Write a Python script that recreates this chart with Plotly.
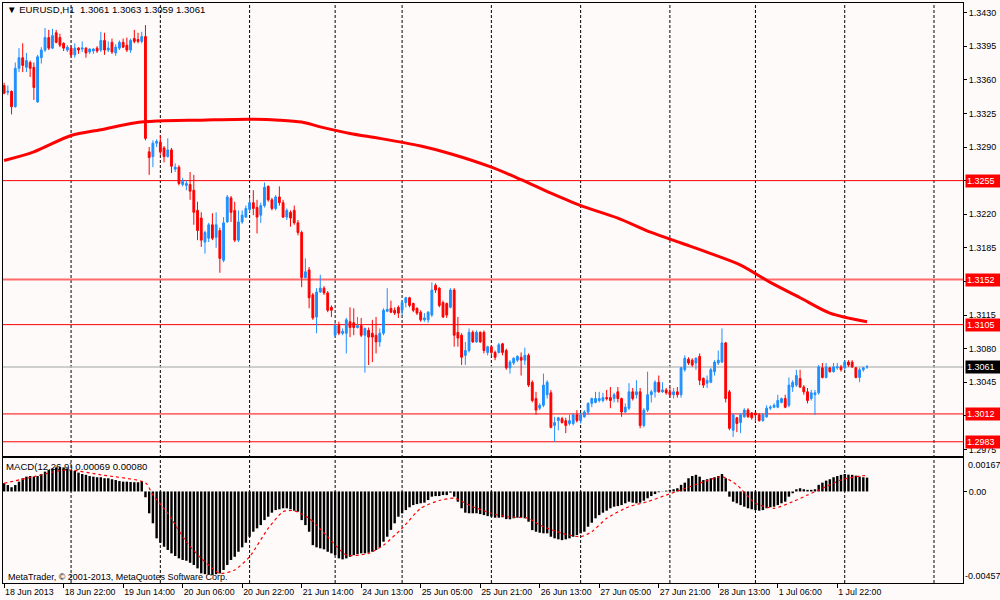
import plotly.graph_objects as go

# ---------------- data (EURUSD H1) ----------------
open_ = [1.3354,1.3347,1.3348,1.3332,1.3372,1.3383,1.3373,1.3378,1.3373,1.3337,
1.3383,1.3391,1.3404,1.3393,1.3409,1.3404,1.3398,1.3391,1.3393,1.3386,
1.3393,1.3392,1.3393,1.3389,1.3390,1.3393,1.3391,1.3401,1.3391,1.3399,
1.3388,1.3393,1.3399,1.3396,1.3391,1.3403,1.3402,1.3400,1.3405,1.3285,
1.3280,1.3294,1.3295,1.3289,1.3280,1.3287,1.3267,1.3269,1.3251,1.3250,
1.3251,1.3245,1.3224,1.3216,1.3191,1.3195,1.3209,1.3196,1.3203,1.3172,
1.3212,1.3237,1.3224,1.3193,1.3212,1.3217,1.3225,1.3232,1.3227,1.3219,
1.3229,1.3249,1.3235,1.3226,1.3238,1.3232,1.3217,1.3222,1.3224,1.3211,
1.3201,1.3154,1.3162,1.3136,1.3113,1.3139,1.3143,1.3138,1.3123,1.3094,
1.3104,1.3096,1.3096,1.3108,1.3107,1.3102,1.3104,1.3094,1.3099,1.3096,
1.3094,1.3087,1.3096,1.3119,1.3122,1.3120,1.3123,1.3120,1.3128,1.3133,
1.3127,1.3122,1.3118,1.3110,1.3110,1.3115,1.3146,1.3143,1.3128,1.3127,
1.3123,1.3141,1.3097,1.3094,1.3073,1.3078,1.3097,1.3087,1.3097,1.3097,
1.3076,1.3082,1.3076,1.3076,1.3085,1.3078,1.3060,1.3065,1.3068,1.3071,
1.3068,1.3073,1.3045,1.3028,1.3018,1.3021,1.3032,1.3034,1.3000,1.3005,
1.3007,1.3005,1.3002,1.3002,1.3011,1.3005,1.3009,1.3014,1.3023,1.3024,
1.3026,1.3026,1.3029,1.3029,1.3028,1.3035,1.3028,1.3014,1.3018,1.3035,
1.3032,1.3035,1.3000,1.3016,1.3032,1.3035,1.3045,1.3035,1.3037,1.3035,
1.3032,1.3035,1.3032,1.3058,1.3069,1.3068,1.3065,1.3072,1.3049,1.3044,
1.3045,1.3056,1.3065,1.3066,1.3086,1.3035,1.2995,1.3008,1.3003,1.3009,
1.3016,1.3013,1.3013,1.3011,1.3005,1.3009,1.3018,1.3019,1.3019,1.3024,
1.3028,1.3021,1.3040,1.3042,1.3049,1.3040,1.3035,1.3028,1.3032,1.3034,
1.3060,1.3050,1.3060,1.3056,1.3060,1.3061,1.3060,1.3066,1.3066,1.3060,
1.3050,1.3058,1.3061]

high = [1.3357,1.3354,1.3349,1.3378,1.3393,1.3398,1.3388,1.3380,1.3378,1.3386,
1.3394,1.3414,1.3412,1.3413,1.3412,1.3408,1.3399,1.3396,1.3396,1.3398,
1.3394,1.3400,1.3394,1.3393,1.3393,1.3395,1.3410,1.3409,1.3400,1.3403,
1.3397,1.3401,1.3403,1.3404,1.3403,1.3412,1.3409,1.3410,1.3417,1.3290,
1.3297,1.3298,1.3302,1.3291,1.3299,1.3289,1.3273,1.3271,1.3258,1.3255,
1.3264,1.3261,1.3233,1.3222,1.3203,1.3211,1.3221,1.3222,1.3206,1.3217,
1.3240,1.3239,1.3233,1.3224,1.3224,1.3229,1.3237,1.3245,1.3235,1.3232,
1.3253,1.3250,1.3237,1.3240,1.3249,1.3235,1.3226,1.3224,1.3229,1.3214,
1.3203,1.3174,1.3165,1.3138,1.3143,1.3157,1.3145,1.3140,1.3125,1.3107,
1.3108,1.3101,1.3112,1.3123,1.3122,1.3113,1.3112,1.3102,1.3102,1.3110,
1.3113,1.3101,1.3122,1.3143,1.3130,1.3123,1.3125,1.3130,1.3134,1.3134,
1.3128,1.3123,1.3120,1.3117,1.3119,1.3149,1.3148,1.3144,1.3130,1.3128,
1.3143,1.3143,1.3113,1.3096,1.3087,1.3101,1.3099,1.3099,1.3098,1.3099,
1.3083,1.3083,1.3078,1.3086,1.3086,1.3080,1.3068,1.3071,1.3073,1.3076,
1.3081,1.3075,1.3047,1.3035,1.3023,1.3054,1.3047,1.3037,1.3009,1.3009,
1.3009,1.3008,1.3011,1.3013,1.3016,1.3013,1.3016,1.3024,1.3029,1.3035,
1.3035,1.3034,1.3037,1.3040,1.3034,1.3040,1.3029,1.3023,1.3044,1.3039,
1.3047,1.3039,1.3018,1.3056,1.3037,1.3047,1.3052,1.3045,1.3039,1.3040,
1.3039,1.3040,1.3061,1.3073,1.3071,1.3070,1.3071,1.3075,1.3050,1.3052,
1.3060,1.3068,1.3078,1.3101,1.3087,1.3037,1.3013,1.3009,1.3013,1.3018,
1.3018,1.3014,1.3014,1.3013,1.3013,1.3021,1.3021,1.3023,1.3032,1.3029,
1.3032,1.3050,1.3047,1.3058,1.3058,1.3042,1.3039,1.3037,1.3037,1.3063,
1.3065,1.3065,1.3061,1.3065,1.3065,1.3063,1.3068,1.3068,1.3068,1.3061,
1.3060,1.3061,1.3063]

low = [1.3345,1.3344,1.3324,1.3331,1.3368,1.3368,1.3368,1.3363,1.3339,1.3336,
1.3377,1.3389,1.3391,1.3392,1.3398,1.3394,1.3390,1.3389,1.3383,1.3383,
1.3387,1.3389,1.3383,1.3387,1.3387,1.3388,1.3389,1.3386,1.3389,1.3387,
1.3385,1.3391,1.3393,1.3389,1.3388,1.3398,1.3398,1.3398,1.3297,1.3261,
1.3269,1.3290,1.3282,1.3274,1.3279,1.3263,1.3264,1.3250,1.3249,1.3245,
1.3235,1.3209,1.3193,1.3186,1.3179,1.3191,1.3193,1.3185,1.3159,1.3170,
1.3211,1.3212,1.3191,1.3191,1.3210,1.3216,1.3222,1.3219,1.3200,1.3211,
1.3227,1.3233,1.3224,1.3224,1.3229,1.3216,1.3214,1.3207,1.3209,1.3198,
1.3144,1.3153,1.3122,1.3110,1.3096,1.3138,1.3136,1.3118,1.3113,1.3092,
1.3094,1.3094,1.3075,1.3092,1.3094,1.3101,1.3092,1.3055,1.3063,1.3066,
1.3075,1.3082,1.3094,1.3118,1.3117,1.3115,1.3112,1.3115,1.3123,1.3123,
1.3118,1.3115,1.3108,1.3108,1.3107,1.3113,1.3138,1.3123,1.3112,1.3112,
1.3122,1.3082,1.3082,1.3063,1.3063,1.3076,1.3086,1.3086,1.3086,1.3075,
1.3073,1.3073,1.3068,1.3075,1.3073,1.3058,1.3054,1.3063,1.3066,1.3052,
1.3063,1.3040,1.3024,1.3011,1.3016,1.3019,1.3028,1.2997,1.2983,1.2995,
1.3002,1.2992,1.3000,1.3000,1.3003,1.3002,1.3008,1.3011,1.3019,1.3023,
1.3024,1.3024,1.3026,1.3018,1.3024,1.3024,1.3009,1.3013,1.3016,1.3026,
1.3028,1.2997,1.2998,1.3014,1.3024,1.3029,1.3034,1.3034,1.3032,1.3029,
1.3028,1.3029,1.3029,1.3056,1.3063,1.3061,1.3058,1.3042,1.3039,1.3039,
1.3044,1.3052,1.3063,1.3065,1.3024,1.2995,1.2988,1.2993,1.2992,1.3008,
1.3008,1.3006,1.3004,1.3004,1.3004,1.3008,1.3016,1.3018,1.3018,1.3023,
1.3018,1.3019,1.3035,1.3040,1.3039,1.3032,1.3023,1.3026,1.3011,1.3032,
1.3049,1.3049,1.3055,1.3055,1.3058,1.3056,1.3058,1.3061,1.3060,1.3049,
1.3045,1.3056,1.3059]

close = [1.3346,1.3348,1.3332,1.3372,1.3383,1.3375,1.3380,1.3372,1.3352,1.3384,
1.3391,1.3404,1.3393,1.3406,1.3399,1.3396,1.3393,1.3394,1.3386,1.3393,
1.3391,1.3393,1.3388,1.3392,1.3392,1.3390,1.3401,1.3391,1.3393,1.3389,
1.3394,1.3399,1.3394,1.3391,1.3401,1.3400,1.3400,1.3405,1.3299,1.3279,
1.3294,1.3296,1.3285,1.3280,1.3287,1.3270,1.3269,1.3252,1.3254,1.3252,
1.3244,1.3222,1.3203,1.3193,1.3201,1.3209,1.3195,1.3209,1.3174,1.3211,
1.3238,1.3222,1.3193,1.3212,1.3219,1.3226,1.3232,1.3226,1.3217,1.3229,
1.3248,1.3235,1.3226,1.3238,1.3232,1.3217,1.3224,1.3216,1.3211,1.3201,
1.3154,1.3160,1.3133,1.3112,1.3139,1.3143,1.3138,1.3120,1.3120,1.3104,
1.3096,1.3098,1.3110,1.3102,1.3102,1.3104,1.3094,1.3101,1.3092,1.3092,
1.3087,1.3096,1.3120,1.3121,1.3118,1.3117,1.3117,1.3128,1.3133,1.3125,
1.3120,1.3117,1.3110,1.3112,1.3118,1.3141,1.3141,1.3125,1.3113,1.3115,
1.3141,1.3094,1.3091,1.3071,1.3078,1.3097,1.3087,1.3097,1.3087,1.3078,
1.3082,1.3076,1.3071,1.3084,1.3076,1.3060,1.3066,1.3070,1.3072,1.3068,
1.3073,1.3042,1.3026,1.3016,1.3021,1.3042,1.3045,1.2998,1.3003,1.3008,
1.3003,1.3000,1.3005,1.3011,1.3005,1.3011,1.3014,1.3023,1.3028,1.3028,
1.3028,1.3029,1.3028,1.3026,1.3032,1.3028,1.3014,1.3019,1.3035,1.3028,
1.3035,1.3000,1.3016,1.3032,1.3035,1.3045,1.3035,1.3037,1.3034,1.3032,
1.3035,1.3032,1.3060,1.3070,1.3065,1.3063,1.3070,1.3047,1.3042,1.3047,
1.3058,1.3066,1.3068,1.3086,1.3028,1.2997,1.3011,1.3002,1.3011,1.3016,
1.3009,1.3008,1.3011,1.3005,1.3011,1.3018,1.3019,1.3021,1.3026,1.3028,
1.3019,1.3042,1.3045,1.3052,1.3040,1.3035,1.3026,1.3034,1.3034,1.3061,
1.3050,1.3061,1.3056,1.3061,1.3061,1.3058,1.3066,1.3063,1.3061,1.3050,
1.3058,1.3060,1.3061]

# moving average (read at selected bars)
ma_idx = [0, 8, 18, 26, 35, 41, 53, 66, 74, 80, 85, 93, 101, 112, 120, 131, 139,
          147, 155, 165, 174, 182, 190, 198, 206, 214, 222, 232]
ma_val = [1.3276, 1.3285, 1.3302, 1.3308, 1.3315, 1.3317, 1.3318, 1.3319, 1.3318,
          1.3316, 1.3311, 1.3304, 1.3299, 1.3291, 1.3283, 1.3269, 1.3256, 1.3242,
          1.3229, 1.3216, 1.3201, 1.3190, 1.3179, 1.3167, 1.3149, 1.3133, 1.3117, 1.3108]

# MACD main (histogram)
macd_hist = [0.00041,0.00032,0.00021,0.00032,0.00049,0.00066,0.00074,0.00077,0.00074,0.00077,
0.00087,0.00099,0.00107,0.00115,0.00120,0.00122,0.00120,0.00115,0.00107,0.00103,
0.00094,0.00087,0.00083,0.00077,0.00074,0.00071,0.00071,0.00066,0.00066,0.00061,
0.00057,0.00052,0.00049,0.00049,0.00047,0.00046,0.00046,0.00052,-0.00029,-0.00109,
-0.00159,-0.00234,-0.00256,-0.00276,-0.00292,-0.00309,-0.00322,-0.00334,-0.00342,-0.00346,
-0.00356,-0.00367,-0.00384,-0.00409,-0.00413,-0.00413,-0.00418,-0.00413,-0.00409,-0.00392,
-0.00367,-0.00342,-0.00326,-0.00301,-0.00279,-0.00256,-0.00226,-0.00201,-0.00184,-0.00168,
-0.00143,-0.00126,-0.00106,-0.00093,-0.00089,-0.00084,-0.00084,-0.00089,-0.00096,-0.00101,
-0.00143,-0.00168,-0.00201,-0.00268,-0.00279,-0.00284,-0.00289,-0.00301,-0.00309,-0.00318,
-0.00334,-0.00339,-0.00334,-0.00326,-0.00318,-0.00313,-0.00309,-0.00309,-0.00306,-0.00301,
-0.00292,-0.00279,-0.00251,-0.00226,-0.00192,-0.00159,-0.00126,-0.00109,-0.00093,-0.00079,
-0.00068,-0.00063,-0.00059,-0.00056,-0.00043,-0.00026,-0.00023,-0.00023,-0.00018,-0.00018,
-0.00006,-0.00026,-0.00051,-0.00084,-0.00106,-0.00109,-0.00109,-0.00109,-0.00113,-0.00118,
-0.00123,-0.00126,-0.00131,-0.00131,-0.00129,-0.00138,-0.00139,-0.00134,-0.00131,-0.00131,
-0.00134,-0.00151,-0.00193,-0.00201,-0.00206,-0.00209,-0.00209,-0.00226,-0.00234,-0.00239,
-0.00243,-0.00239,-0.00234,-0.00226,-0.00218,-0.00209,-0.00201,-0.00176,-0.00156,-0.00134,
-0.00118,-0.00106,-0.00096,-0.00084,-0.00076,-0.00073,-0.00068,-0.00059,-0.00051,-0.00056,
-0.00059,-0.00056,-0.00046,-0.00034,-0.00023,-0.00013,-0.00004,-0.00001,0.00004,0.00008,
0.00011,0.00016,0.00033,0.00044,0.00066,0.00077,0.00083,0.00074,0.00057,0.00061,
0.00066,0.00071,0.00077,0.00087,0.00066,-0.00026,-0.00051,-0.00059,-0.00068,-0.00076,
-0.00084,-0.00089,-0.00093,-0.00096,-0.00093,-0.00084,-0.00079,-0.00076,-0.00068,-0.00059,
-0.00051,-0.00026,-0.00009,0.00011,0.00016,0.00011,0.00008,0.00008,0.00011,0.00033,
0.00044,0.00054,0.00061,0.00071,0.00077,0.00083,0.00087,0.00084,0.00083,0.00079,
0.00074,0.00071,0.00069]

# MACD signal (read at selected bars)
sig_idx = [0, 8, 15, 18, 26, 38, 40, 44, 49, 53, 58, 62, 66, 71, 75, 78, 82, 87, 92,
           98, 102, 107, 112, 117, 121, 126, 131, 135, 141, 144, 150, 155, 158, 162,
           168, 173, 178, 182, 187, 193, 197, 202, 207, 212, 216, 220, 225, 230, 232]
sig_val = [0.00041, 0.00074, 0.00104, 0.00107, 0.00083, 0.00044, -0.00018, -0.00109,
           -0.00251, -0.00334, -0.00409, -0.00392, -0.00326, -0.00184, -0.00101, -0.00096,
           -0.00134, -0.00226, -0.00318, -0.00309, -0.00268, -0.00184, -0.00084, -0.00045,
           -0.00034, -0.00076, -0.00109, -0.00126, -0.00134, -0.00168, -0.00209, -0.00226,
           -0.00201, -0.00134, -0.00076, -0.00051, -0.00018, 0.00008, 0.00041, 0.00074,
           0.00033, -0.00059, -0.00084, -0.00051, -0.00018, 0.00016, 0.00057, 0.00077, 0.00080]

levels = [1.3255, 1.3152, 1.3105, 1.3012, 1.2983]
bid = 1.3061
price_ticks = [1.2975, 1.3010, 1.3045, 1.3080, 1.3115, 1.3150, 1.3185, 1.3220,
               1.3255, 1.3290, 1.3325, 1.3360, 1.3395, 1.3430]
price_range = [1.29682, 1.3440]
macd_max, macd_min = 0.00167, -0.00457

label_idx = [0, 16, 32, 48, 64, 80, 96, 112, 128, 144, 160, 176, 192, 208, 224]
time_labels = ["18 Jun 2013", "18 Jun 22:00", "19 Jun 14:00", "20 Jun 06:00",
               "20 Jun 22:00", "21 Jun 14:00", "24 Jun 13:00", "25 Jun 05:00",
               "25 Jun 21:00", "26 Jun 13:00", "27 Jun 05:00", "27 Jun 21:00",
               "28 Jun 13:00", "1 Jul 06:00", "1 Jul 22:00"]
day_idx = [18, 42, 66, 89, 107, 131, 155, 179, 202, 226, 250]

title_text = "▼ EURUSD,H1&nbsp;&nbsp;1.3061 1.3063 1.3059 1.3061"
macd_text = "MACD(12,26,9) 0.00069 0.00080"
copyright_text = "MetaTrader, © 2001-2013, MetaQuotes Software Corp."

# ---------------- figure ----------------
BG = "#FFFAFA"
FONT = "Liberation Sans, Arial, sans-serif"
FS = 9
FST = 9.6
xr = [-0.3, 257.8]
idx = list(range(len(open_)))

fig = go.Figure()
fig.add_trace(go.Candlestick(
    x=idx, open=open_, high=high, low=low, close=close,
    increasing=dict(line=dict(color="#1E90FF", width=1), fillcolor="#1E90FF"),
    decreasing=dict(line=dict(color="#FF0000", width=1), fillcolor="#FF0000"),
    whiskerwidth=0, xaxis="x", yaxis="y", hoverinfo="skip"))
fig.add_trace(go.Scatter(x=ma_idx, y=ma_val, mode="lines",
                         line=dict(color="#FF0000", width=3, shape="spline", smoothing=0.8),
                         xaxis="x", yaxis="y", hoverinfo="skip"))
fig.add_trace(go.Bar(x=idx, y=macd_hist, marker=dict(color="#000000", line=dict(width=0)),
                     xaxis="x2", yaxis="y2", hoverinfo="skip"))
fig.add_trace(go.Scatter(x=sig_idx, y=sig_val, mode="lines",
                         line=dict(color="#FF0000", width=1.2, dash="dot",
                                   shape="spline", smoothing=0.6),
                         xaxis="x2", yaxis="y2", hoverinfo="skip"))

shapes = []
for d in day_idx:
    shapes.append(dict(type="line", xref="x", yref="paper", x0=d, x1=d, y0=0, y1=1,
                       line=dict(color="#000000", width=1, dash="3px,2px"), layer="below"))
shapes.append(dict(type="line", xref="paper", yref="y", x0=0, x1=1, y0=bid, y1=bid,
                   line=dict(color="#C0C0C0", width=1.5), layer="below"))
for lv in levels:
    col = "#FF6A6A" if lv == 1.3152 else "#FF0000"
    w = 2 if lv == 1.3152 else 1
    shapes.append(dict(type="line", xref="paper", yref="y", x0=0, x1=1, y0=lv, y1=lv,
                       line=dict(color=col, width=w), layer="below"))

ann = []
for lv in levels:
    ann.append(dict(xref="paper", yref="y", x=1, y=lv, xanchor="left", yanchor="middle",
                    xshift=2, text=f"{lv:.4f}", showarrow=False, bgcolor="#FF0000",
                    font=dict(color="white", size=FS, family=FONT), borderpad=1, width=32,
                    align="left"))
ann.append(dict(xref="paper", yref="y", x=1, y=bid, xanchor="left", yanchor="middle",
                xshift=2, text=f"{bid:.4f}", showarrow=False, bgcolor="#000000",
                font=dict(color="white", size=FS, family=FONT), borderpad=1, width=32,
                align="left"))
ann.append(dict(xref="paper", yref="y2", x=1, y=macd_max, xanchor="left", yanchor="top",
                xshift=3, text=f"{macd_max:.5f}", showarrow=False,
                font=dict(color="black", size=FS, family=FONT)))
ann.append(dict(xref="paper", yref="y2", x=1, y=macd_min, xanchor="left", yanchor="bottom",
                xshift=0, text=f"{macd_min:.5f}", showarrow=False,
                font=dict(color="black", size=FS, family=FONT)))
ann.append(dict(xref="paper", yref="paper", x=0, y=0.9888, xanchor="left", yanchor="middle",
                xshift=2, text=title_text, showarrow=False,
                font=dict(color="black", size=FST, family=FONT)))
ann.append(dict(xref="paper", yref="paper", x=0, y=0.2017, xanchor="left", yanchor="middle",
                xshift=1, text=macd_text, showarrow=False,
                font=dict(color="black", size=FST, family=FONT)))
ann.append(dict(xref="paper", yref="paper", x=0, y=0.0103, xanchor="left", yanchor="middle",
                xshift=3, text=copyright_text, showarrow=False,
                font=dict(color="black", size=FS, family=FONT)))

axis_common = dict(showgrid=False, zeroline=False, showline=True, mirror=True,
                   linecolor="#000000", linewidth=1)

fig.update_layout(
    width=1000, height=600,
    margin=dict(l=3, r=37, t=3, b=17, autoexpand=False),
    paper_bgcolor=BG, plot_bgcolor=BG,
    showlegend=False, bargap=0.35,
    font=dict(family=FONT, size=FS, color="black"),
    xaxis=dict(domain=[0, 1], anchor="y", range=xr, showticklabels=False, ticks="",
               rangeslider=dict(visible=False), **axis_common),
    yaxis=dict(domain=[0.219, 1], anchor="x", side="right", range=price_range,
               tickvals=price_ticks, tickformat=".4f", ticks="outside", ticklen=3,
               tickcolor="#000000", tickfont=dict(size=FS, family=FONT), **axis_common),
    xaxis2=dict(domain=[0, 1], anchor="y2", matches="x", range=xr,
                tickvals=label_idx, ticktext=time_labels, ticks="outside", ticklen=4,
                tickcolor="#000000", ticklabelposition="outside right", tickangle=0,
                tickfont=dict(size=8.8, family=FONT), **axis_common),
    yaxis2=dict(domain=[0, 0.2155], anchor="x2", side="right", range=[macd_min, macd_max],
                tickvals=[0], ticktext=["0.00"], ticks="outside", ticklen=3,
                tickcolor="#000000", tickfont=dict(size=FS, family=FONT), **axis_common),
    shapes=shapes, annotations=ann,
)

fig.write_html("out.html",
               config={"displayModeBar": False, "staticPlot": True},
               post_script="document.body.style.margin='0px';"
                           "document.body.style.padding='0px';"
                           "document.body.style.background='" + BG + "';")
